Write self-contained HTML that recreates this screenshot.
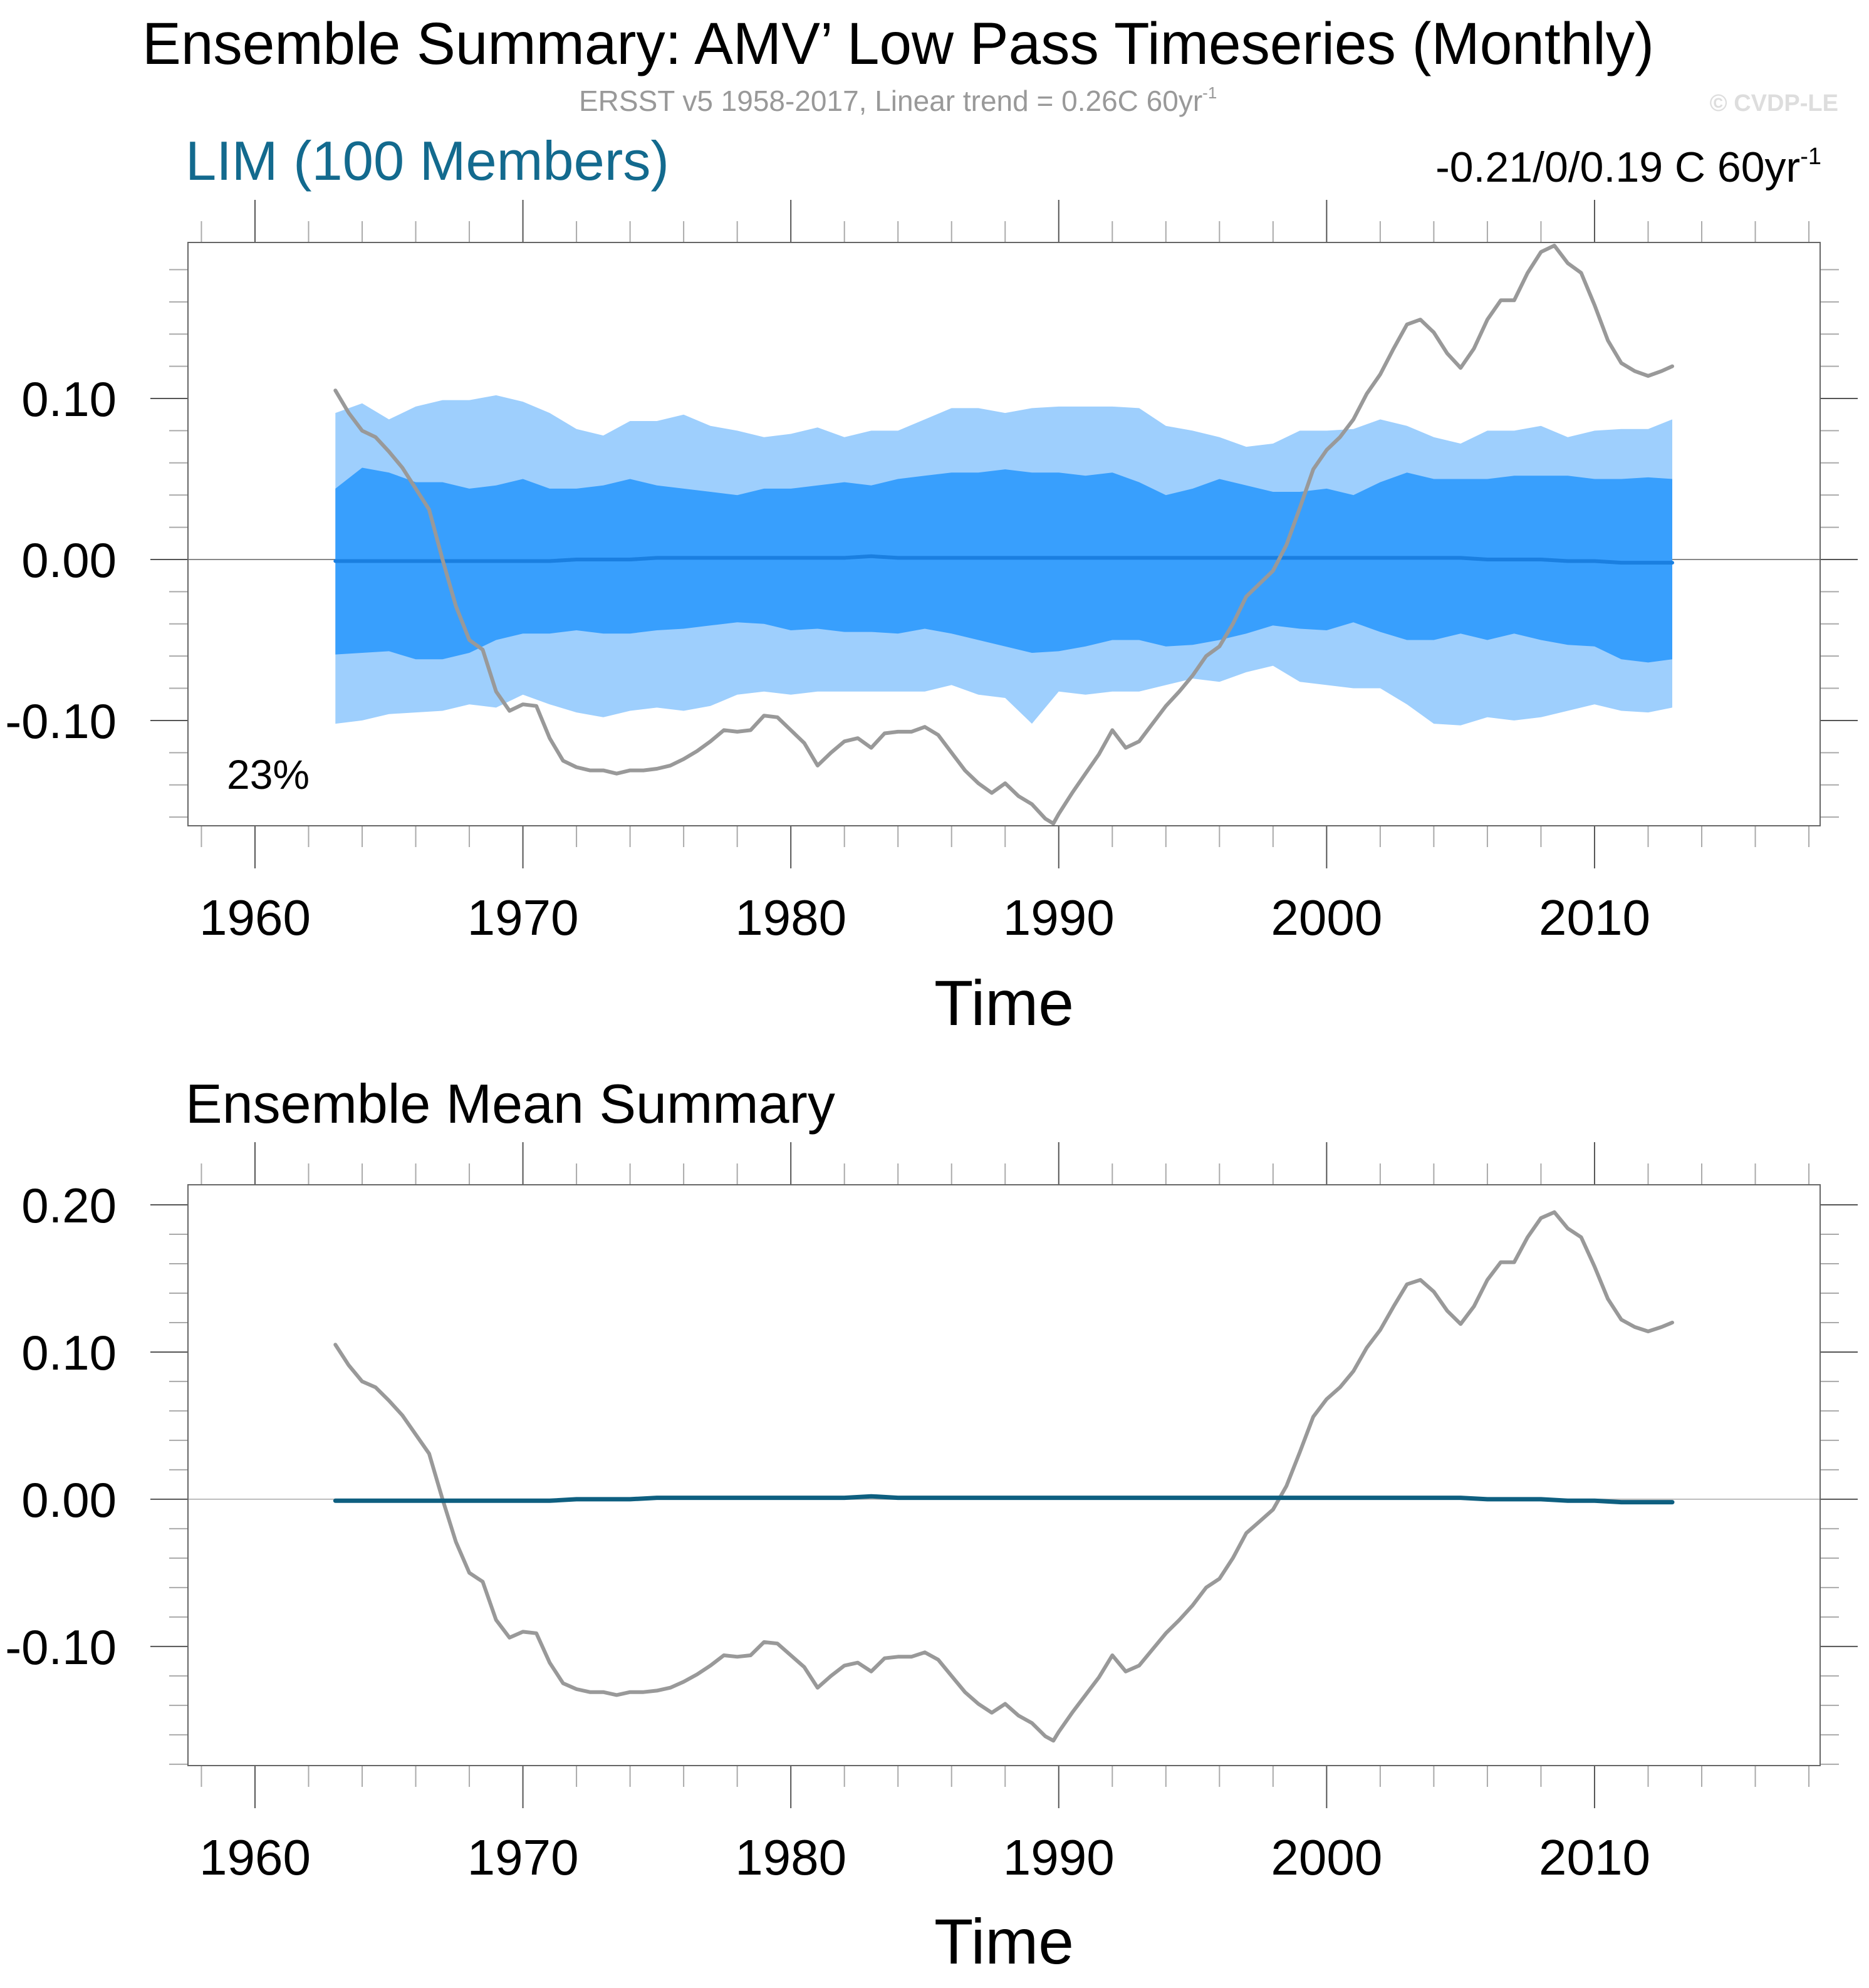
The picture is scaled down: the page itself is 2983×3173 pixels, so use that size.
<!DOCTYPE html>
<html><head><meta charset="utf-8"><style>
html,body{margin:0;padding:0;background:#fff;}
svg{display:block;font-family:"Liberation Sans",sans-serif;}
</style></head><body>
<svg id="chart" width="2983" height="3173" viewBox="0 0 2983 3173" xmlns="http://www.w3.org/2000/svg">
<rect width="2983" height="3173" fill="#fff"/>
<text x="227" y="102" font-size="95" textLength="2413" lengthAdjust="spacingAndGlyphs">Ensemble Summary: AMV’ Low Pass Timeseries (Monthly)</text>
<text x="924" y="177" font-size="46" fill="#999">ERSST v5 1958-2017, Linear trend = 0.26C 60yr<tspan dy="-20" font-size="26">-1</tspan></text>
<text x="2934" y="177" font-size="38" font-weight="bold" fill="#ddd" text-anchor="end">© CVDP-LE</text>
<text x="296" y="287" font-size="88" fill="#136a8e" textLength="772" lengthAdjust="spacingAndGlyphs">LIM (100 Members)</text>
<text x="2907" y="290" font-size="68" text-anchor="end">-0.21/0/0.19 C 60yr<tspan dy="-28" font-size="38">-1</tspan></text>
<text x="296" y="1792" font-size="88">Ensemble Mean Summary</text>
<g id="p1"></g>
<g id="p2"></g>
</svg>
<script>
const obsYears=[1963,1963.5,1964,1964.5,1965,1965.5,1966,1966.5,1967,1967.5,1968,1968.5,1969,1969.5,1970,1970.5,1971,1971.5,1972,1972.5,1973,1973.5,1974,1974.5,1975,1975.5,1976,1976.5,1977,1977.5,1978,1978.5,1979,1979.5,1980,1980.5,1981,1981.5,1982,1982.5,1983,1983.5,1984,1984.5,1985,1985.5,1986,1986.5,1987,1987.5,1988,1988.5,1989,1989.5,1989.8,1990,1990.5,1991,1991.5,1992,1992.5,1993,1993.5,1994,1994.5,1995,1995.5,1996,1996.5,1997,1997.5,1998,1998.5,1999,1999.5,2000,2000.5,2001,2001.5,2002,2002.5,2003,2003.5,2004,2004.5,2005,2005.5,2006,2006.5,2007,2007.5,2008,2008.5,2009,2009.5,2010,2010.5,2011,2011.5,2012,2012.5,2012.9];
const obsValues=[0.105,0.091,0.080,0.076,0.067,0.057,0.044,0.031,0.0,-0.029,-0.050,-0.056,-0.082,-0.094,-0.090,-0.091,-0.111,-0.125,-0.129,-0.131,-0.131,-0.133,-0.131,-0.131,-0.130,-0.128,-0.124,-0.119,-0.113,-0.106,-0.107,-0.106,-0.097,-0.098,-0.106,-0.114,-0.128,-0.120,-0.113,-0.111,-0.117,-0.108,-0.107,-0.107,-0.104,-0.109,-0.120,-0.131,-0.139,-0.145,-0.139,-0.147,-0.152,-0.161,-0.164,-0.158,-0.145,-0.133,-0.121,-0.106,-0.117,-0.113,-0.102,-0.091,-0.082,-0.072,-0.060,-0.054,-0.040,-0.023,-0.015,-0.007,0.009,0.032,0.056,0.068,0.076,0.087,0.103,0.115,0.131,0.146,0.149,0.141,0.128,0.119,0.131,0.149,0.161,0.161,0.178,0.191,0.195,0.184,0.178,0.158,0.136,0.122,0.117,0.114,0.117,0.120];
const ensYears=[1963,1964,1965,1966,1967,1968,1969,1970,1971,1972,1973,1974,1975,1976,1977,1978,1979,1980,1981,1982,1983,1984,1985,1986,1987,1988,1989,1990,1991,1992,1993,1994,1995,1996,1997,1998,1999,2000,2001,2002,2003,2004,2005,2006,2007,2008,2009,2010,2011,2012,2012.9];
const lightUpper=[0.091,0.097,0.087,0.095,0.099,0.099,0.102,0.098,0.091,0.081,0.077,0.086,0.086,0.090,0.083,0.080,0.076,0.078,0.082,0.076,0.080,0.080,0.087,0.094,0.094,0.091,0.094,0.095,0.095,0.095,0.094,0.083,0.080,0.076,0.070,0.072,0.080,0.080,0.081,0.087,0.083,0.076,0.072,0.080,0.080,0.083,0.076,0.080,0.081,0.081,0.087];
const darkUpper=[0.044,0.057,0.054,0.048,0.048,0.044,0.046,0.050,0.044,0.044,0.046,0.050,0.046,0.044,0.042,0.040,0.044,0.044,0.046,0.048,0.046,0.050,0.052,0.054,0.054,0.056,0.054,0.054,0.052,0.054,0.048,0.040,0.044,0.050,0.046,0.042,0.042,0.044,0.040,0.048,0.054,0.050,0.050,0.050,0.052,0.052,0.052,0.050,0.050,0.051,0.050];
const darkLower=[-0.059,-0.058,-0.057,-0.062,-0.062,-0.058,-0.050,-0.046,-0.046,-0.044,-0.046,-0.046,-0.044,-0.043,-0.041,-0.039,-0.040,-0.044,-0.043,-0.045,-0.045,-0.046,-0.043,-0.046,-0.050,-0.054,-0.058,-0.057,-0.054,-0.050,-0.050,-0.054,-0.053,-0.050,-0.046,-0.041,-0.043,-0.044,-0.039,-0.045,-0.050,-0.050,-0.046,-0.050,-0.046,-0.050,-0.053,-0.054,-0.062,-0.064,-0.062];
const lightLower=[-0.102,-0.100,-0.096,-0.095,-0.094,-0.090,-0.092,-0.084,-0.090,-0.095,-0.098,-0.094,-0.092,-0.094,-0.091,-0.084,-0.082,-0.084,-0.082,-0.082,-0.082,-0.082,-0.082,-0.078,-0.084,-0.086,-0.102,-0.082,-0.084,-0.082,-0.082,-0.078,-0.074,-0.076,-0.070,-0.066,-0.076,-0.078,-0.080,-0.080,-0.090,-0.102,-0.103,-0.098,-0.100,-0.098,-0.094,-0.090,-0.094,-0.095,-0.092];
const ensMean=[-0.001,-0.001,-0.001,-0.001,-0.001,-0.001,-0.001,-0.001,-0.001,0.0,0.0,0.0,0.001,0.001,0.001,0.001,0.001,0.001,0.001,0.001,0.002,0.001,0.001,0.001,0.001,0.001,0.001,0.001,0.001,0.001,0.001,0.001,0.001,0.001,0.001,0.001,0.001,0.001,0.001,0.001,0.001,0.001,0.001,0.0,0.0,0.0,-0.001,-0.001,-0.002,-0.002,-0.002];
const xTickYears=[1960,1970,1980,1990,2000,2010];
const p1Ticks=[-0.10,0.00,0.10];
const p2Ticks=[-0.10,0.00,0.10,0.20];
const NS="http://www.w3.org/2000/svg";
function mk(parent,tag,attrs){const e=document.createElementNS(NS,tag);for(const k in attrs)e.setAttribute(k,attrs[k]);parent.appendChild(e);return e;}
function makePanel(g,L,R,T,B,ymin,ymax,yTicks,labelBase,timeBase){
  const xmin=1957.498,xmax=2018.42;
  const X=v=>L+(v-xmin)/(xmax-xmin)*(R-L);
  const Y=v=>B-(v-ymin)/(ymax-ymin)*(B-T);
  return {X,Y,L,R,T,B,ymin,ymax,yTicks,labelBase,timeBase,g};
}
function drawAxes(P){
  const {X,Y,L,R,T,B,g}=P;
  for(let yr=1958;yr<=2018;yr+=2){
    const major=yr%10===0;const len=major?68:34;const x=X(yr);
    const t1=mk(g,'line',{x1:x,x2:x,y1:B,y2:B+len,stroke:major?'#555':'#aaa','stroke-width':2});
    
    
    const t2=mk(g,'line',{x1:x,x2:x,y1:T,y2:T-len,stroke:major?'#555':'#aaa','stroke-width':2});
    
    
  }
  const step=0.02;
  const start=Math.ceil(P.ymin/step-1e-6);
  for(let i=start;i*step<=P.ymax+1e-9;i++){
    const v=i*step;const major=Math.abs(Math.round(v*100)%10)===0;const y=Y(v);const len=major?60:30;
    const a=mk(g,'line',{x1:L-len,x2:L,y1:y,y2:y,stroke:major?'#555':'#aaa','stroke-width':2});
    
    
    const b=mk(g,'line',{x1:R,x2:R+len,y1:y,y2:y,stroke:major?'#555':'#aaa','stroke-width':2});
    
    
  }
  xTickYears.forEach(yr=>{
    const t=mk(g,'text',{x:X(yr),y:P.labelBase,'font-size':80,'text-anchor':'middle'});
    t.textContent=String(yr);
    
    
  });
  P.yTicks.forEach(v=>{
    const t=mk(g,'text',{x:186,y:Y(v)+28,'font-size':78,'text-anchor':'end'});
    t.textContent=v.toFixed(2);
    
    
  });
  const tt=mk(g,'text',{x:(L+R)/2,y:P.timeBase,'font-size':102,'text-anchor':'middle'});
  tt.textContent='Time';
  
  
}
function frame(P){
  const f=mk(P.g,'rect',{x:P.L,y:P.T,width:P.R-P.L,height:P.B-P.T,fill:'none',stroke:'#666','stroke-width':2});
  
  
}
function zero(P,col){
  const z=mk(P.g,'line',{x1:P.L,x2:P.R,y1:P.Y(0),y2:P.Y(0),stroke:col,'stroke-width':2});
  
  
}
function band(P,up,lo,col,name){
  let d='';
  ensYears.forEach((yr,i)=>{d+=(i?'L':'M')+P.X(yr).toFixed(1)+','+P.Y(up[i]).toFixed(1);});
  for(let i=ensYears.length-1;i>=0;i--)d+='L'+P.X(ensYears[i]).toFixed(1)+','+P.Y(lo[i]).toFixed(1);
  const p=mk(P.g,'path',{d:d+'Z',fill:col});
  
  
}
function line(P,xs,ys,col,w,name){
  const d=xs.map((yr,i)=>(i?'L':'M')+P.X(yr).toFixed(1)+','+P.Y(ys[i]).toFixed(1)).join('');
  const p=mk(P.g,'path',{d:d,fill:'none',stroke:col,'stroke-width':w,'stroke-linejoin':'round','stroke-linecap':'round'});
  
  
}
const P1=makePanel(document.getElementById('p1'),300,2905,387,1318,-0.1654,0.1969,p1Ticks,1492,1636);
drawAxes(P1);
zero(P1,'#888');
band(P1,lightUpper,lightLower,'#9ecffd','outer-spread-band');
band(P1,darkUpper,darkLower,'#389ffd','inner-spread-band');
line(P1,ensYears,ensMean,'#1a7fe0',6,'ensemble-mean-line');
line(P1,obsYears,obsValues,'#999',6,'observed-amv-line');
frame(P1);
const pct=mk(P1.g,'text',{x:362,y:1259,'font-size':66});
pct.textContent='23%';


const P2=makePanel(document.getElementById('p2'),300,2905,1891,2818,-0.1809,0.2136,p2Ticks,2992,3134);
drawAxes(P2);
zero(P2,'#bbb');
line(P2,obsYears,obsValues,'#999',6,'observed-amv-line');
line(P2,ensYears,ensMean,'#0e5f80',7,'ensemble-mean-line');
frame(P2);
</script>
</body></html>
